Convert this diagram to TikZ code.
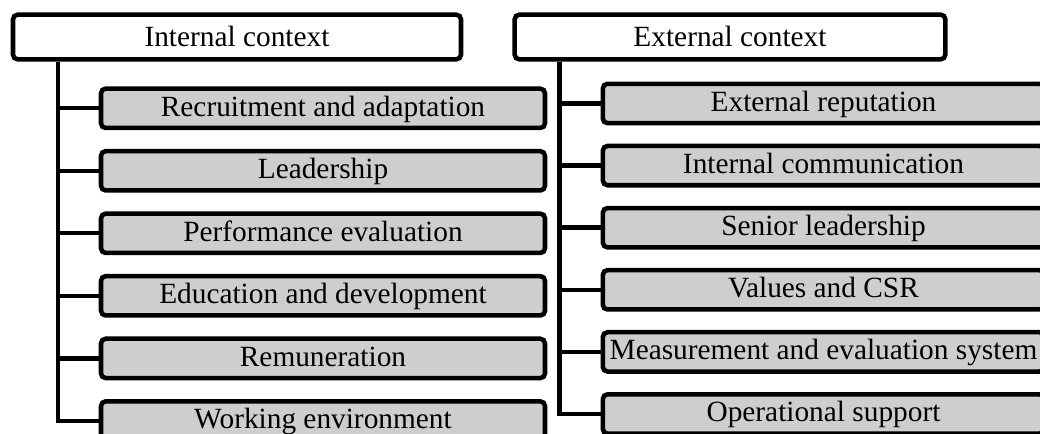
\documentclass[tikz,border=0pt]{standalone}
\usepackage{fontspec}
\setmainfont{Liberation Serif}
\usepackage{tikz}
\usetikzlibrary{calc}
\definecolor{boxgray}{RGB}{206,206,206}
\tikzset{
  context/.style={
    draw,
    line width=3.4pt,
    rounded corners=3.5pt,
    fill=white,
    inner sep=0pt,
    minimum height=33.5pt,
    text height=17pt,
    text depth=3pt,
    font=\fontsize{22}{26}\selectfont
  },
  factor/.style={
    draw,
    line width=3.4pt,
    rounded corners=3.5pt,
    fill=boxgray,
    inner sep=0pt,
    minimum width=333pt,
    minimum height=29.5pt,
    text height=16pt,
    text depth=4pt,
    font=\fontsize{22}{26}\selectfont
  },
  branch/.style={
    line width=3.3pt
  }
}
\begin{document}
\begin{tikzpicture}[x=0.75pt,y=-0.75pt]
        \useasboundingbox (0,0) rectangle (1040,434);
        \clip (0,0) rectangle (1040,434);
        % internal context
        \node[context, minimum width=336pt] (intctx) at (237,37) {Internal context};
        \node[factor] (recr) at (323,108.3) {Recruitment and adaptation};
        \node[factor] (lead) at (323,170.8) {Leadership};
        \node[factor] (perf) at (323,233.3) {Performance evaluation};
        \node[factor] (edu) at (323,295.8) {Education and development};
        \node[factor] (remun) at (323,358.4) {Remuneration};
        \node[factor] (workenv) at (323,421) {Working environment};
        \draw[branch] ([xshift=35.25pt]intctx.south west) |- (recr.west);
        \draw[branch] ([xshift=35.25pt]intctx.south west) |- (lead.west);
        \draw[branch] ([xshift=35.25pt]intctx.south west) |- (perf.west);
        \draw[branch] ([xshift=35.25pt]intctx.south west) |- (edu.west);
        \draw[branch] ([xshift=35.25pt]intctx.south west) |- (remun.west);
        \draw[branch] ([xshift=35.25pt]intctx.south west) |- (workenv.west);
        % external context
        \node[context, minimum width=323pt] (extctx) at (730,37) {External context};
        \node[factor, minimum width=331pt] (extrep) at (823.5,103.5) {External reputation};
        \node[factor, minimum width=331pt] (intcomm) at (823.5,165.6) {Internal communication};
        \node[factor, minimum width=331pt] (senlead) at (823.5,227.7) {Senior leadership};
        \node[factor, minimum width=331pt] (values) at (823.5,289.8) {Values and CSR};
        \node[factor, minimum width=331pt] (measure) at (823.5,351.9) {Measurement and evaluation system};
        \node[factor, minimum width=331pt] (opsupp) at (823.5,414) {Operational support};
        \draw[branch] ([xshift=35.25pt]extctx.south west) |- (extrep.west);
        \draw[branch] ([xshift=35.25pt]extctx.south west) |- (intcomm.west);
        \draw[branch] ([xshift=35.25pt]extctx.south west) |- (senlead.west);
        \draw[branch] ([xshift=35.25pt]extctx.south west) |- (values.west);
        \draw[branch] ([xshift=35.25pt]extctx.south west) |- (measure.west);
        \draw[branch] ([xshift=35.25pt]extctx.south west) |- (opsupp.west);
\end{tikzpicture}
\end{document}
